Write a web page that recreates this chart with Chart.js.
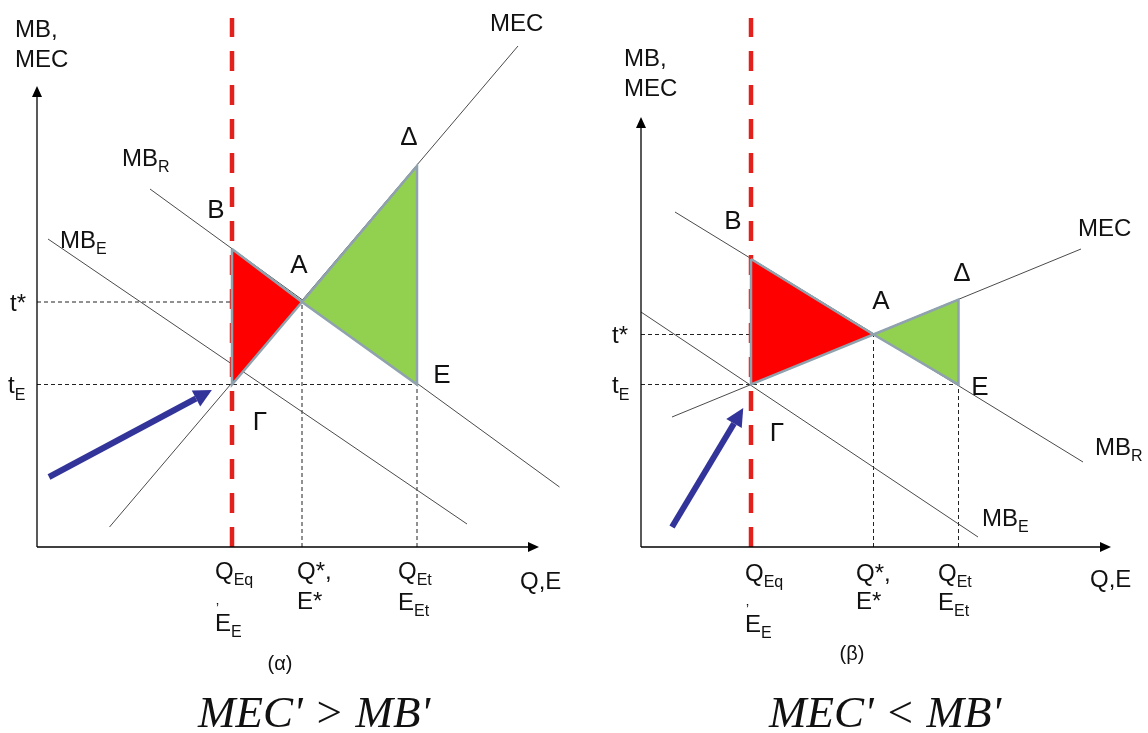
<!DOCTYPE html>
<html><head><meta charset="utf-8">
<script src="https://cdn.jsdelivr.net/npm/chart.js@4.4.1/dist/chart.umd.min.js"></script>
<style>
html,body{margin:0;padding:0;background:#fff;width:1148px;height:733px;overflow:hidden}
canvas{position:absolute;top:0}
#cA{left:0}
#cB{left:574px}
</style></head><body>
<canvas id="cA" width="574" height="733"></canvas>
<canvas id="cB" width="574" height="733"></canvas>
<script>
// ===== Panel (α): MEC' > MB' =====
const alphaQ = [39, 53, 76];            // Q_Eq, Q*, Q_Et
const alphaT = [32.5, 49];              // t_E, t*
const alphaMEC = [{x:14.5,y:4},{x:96.2,y:100.2}];
const alphaMBR = [{x:22.6,y:71.6},{x:104.5,y:12}];
const alphaMBE = [{x:2.2,y:61.6},{x:86,y:4.6}];
const alphaRed = [{x:39,y:59.6},{x:53,y:49},{x:39,y:32.5}];     // B, A, Γ
const alphaGreen = [{x:53,y:49},{x:76,y:76.2},{x:76,y:32.5}];   // A, Δ, E
const alphaArrow = [{x:2.4,y:14},{x:31.8,y:29.7}];
const alphaAxis = [98.2, 90];           // x-axis end, y-axis end
const alphaPolicyTop = 105.8;

// ===== Panel (β): MEC' < MB' =====
const betaQ = [22, 46.5, 63.5];
const betaT = [32.5, 42.5];
const betaMEC = [{x:6.2,y:26},{x:88,y:59.6}];
const betaMBR = [{x:6.8,y:67},{x:88.4,y:17}];
const betaMBE = [{x:0,y:47},{x:67.4,y:2}];
const betaRed = [{x:22,y:57.6},{x:46.5,y:42.5},{x:22,y:32.5}];
const betaGreen = [{x:46.5,y:42.5},{x:63.5,y:49.5},{x:63.5,y:32.5}];
const betaArrow = [{x:6.2,y:4},{x:18.6,y:24.7}];
const betaAxis = [91.8, 83.8];
const betaPolicyTop = 105.8;

const SANS = '"Liberation Sans", Arial, sans-serif';

function buildDatasets(Q, T, MEC, MBR, MBE, red, green, arrow, axis, top) {
  const line = (data, extra) => Object.assign({data, showLine:true, fill:false, borderColor:'#4a4a4a', borderWidth:1, pointRadius:0, clip:false, order:4}, extra||{});
  const guide = (data) => line(data, {borderColor:'#222', borderWidth:1, borderDash:[4,3], order:5});
  return [
    line(arrow, {borderColor:'#33349A', borderWidth:6, order:0, arrowHead:{len:18, half:9}}),
    line([...red, red[0]], {fill:'shape', backgroundColor:'#FF0000', borderColor:'#8FA2AE', borderWidth:2.5, order:2}),
    line([...green, green[0]], {fill:'shape', backgroundColor:'#92D050', borderColor:'#8FA2AE', borderWidth:2.5, order:2}),
    line([{x:Q[0],y:0},{x:Q[0],y:top}], {borderColor:'#E3211C', borderWidth:4.5, borderDash:[20,14], order:3}),
    line(MEC), line(MBR), line(MBE),
    guide([{x:0,y:T[1]},{x:Q[1],y:T[1]}]),
    guide([{x:0,y:T[0]},{x:Q[2],y:T[0]}]),
    guide([{x:Q[1],y:0},{x:Q[1],y:T[1]}]),
    guide([{x:Q[2],y:0},{x:Q[2],y:T[0]}]),
    line([{x:0,y:0},{x:axis[0],y:0}], {borderColor:'#000', borderWidth:1.3, order:1, arrowHead:{len:11, half:5}}),
    line([{x:0,y:0},{x:0,y:axis[1]}], {borderColor:'#000', borderWidth:1.3, order:1, arrowHead:{len:11, half:5}})
  ];
}

const arrowPlugin = {
  id:'arrowHeads',
  afterDatasetsDraw(chart) {
    const ctx = chart.ctx;
    chart.data.datasets.forEach((ds, i) => {
      if (!ds.arrowHead) return;
      const pts = chart.getDatasetMeta(i).data;
      const a = pts[pts.length-2], b = pts[pts.length-1];
      const dx = b.x - a.x, dy = b.y - a.y, L = Math.hypot(dx, dy);
      const ux = dx/L, uy = dy/L;
      const {len, half} = ds.arrowHead;
      ctx.save();
      ctx.fillStyle = ds.borderColor;
      ctx.beginPath();
      ctx.moveTo(b.x + ux*len, b.y + uy*len);
      ctx.lineTo(b.x - uy*half, b.y + ux*half);
      ctx.lineTo(b.x + uy*half, b.y - ux*half);
      ctx.closePath();
      ctx.fill();
      ctx.restore();
    });
  }
};

function labelPlugin(items) {
  return {
    id:'labels',
    afterDraw(chart) {
      const ctx = chart.ctx, sx = chart.scales.x, sy = chart.scales.y;
      ctx.save();
      ctx.fillStyle = '#111';
      ctx.textBaseline = 'alphabetic';
      ctx.textAlign = 'left';
      for (const it of items) {
        const size = it.size || 24;
        const px = sx.getPixelForValue(it.x), py = sy.getPixelForValue(it.y);
        const mainFont = it.font || (size + 'px ' + SANS);
        ctx.font = mainFont;
        const w1 = ctx.measureText(it.t).width;
        const subSize = Math.round(size*0.66);
        let w2 = 0;
        if (it.s) { ctx.font = subSize + 'px ' + SANS; w2 = ctx.measureText(it.s).width; }
        const x0 = it.align === 'center' ? px - (w1 + w2)/2 : px;
        const base = py + (it.cap || 0.36)*size;
        ctx.font = mainFont;
        ctx.fillText(it.t, x0, base);
        if (it.s) { ctx.font = subSize + 'px ' + SANS; ctx.fillText(it.s, x0 + w1, base + 0.28*size); }
      }
      ctx.restore();
    }
  };
}

function makeChart(id, datasets, xmax, pad, items) {
  return new Chart(document.getElementById(id), {
    type:'scatter',
    data:{datasets},
    options:{
      responsive:false, animation:false, devicePixelRatio:1,
      layout:{padding:pad},
      scales:{
        x:{type:'linear', min:0, max:xmax, display:false},
        y:{type:'linear', min:0, max:108, display:false}
      },
      elements:{point:{radius:0}, line:{tension:0}},
      plugins:{legend:{display:false}, tooltip:{enabled:false}}
    },
    plugins:[arrowPlugin, labelPlugin(items)]
  });
}

const formula = 'italic 45px "Liberation Serif", "Times New Roman", serif';

const alphaItems = [
  {t:'MB,', x:-4.4, y:103.8}, {t:'MEC', x:-4.4, y:97.8},
  {t:'MEC', x:90.6, y:105},
  {t:'MB', s:'R', x:17, y:78}, {t:'MB', s:'E', x:4.6, y:61.6},
  {t:'B', x:35.8, y:67.6, size:26, align:'center'},
  {t:'A', x:52.4, y:56.6, size:26, align:'center'},
  {t:'Δ', x:74.4, y:82.2, size:26, align:'center'},
  {t:'E', x:81, y:34.6, size:26, align:'center'},
  {t:'Γ', x:44.6, y:25.2, size:26, align:'center'},
  {t:'t*', x:-5.4, y:alphaT[1]}, {t:'t', s:'E', x:-5.8, y:alphaT[0]},
  {t:'Q', s:'Eq', x:35.6, y:-4.6}, {t:'\u02BC', x:35.8, y:-12.4, size:14}, {t:'E', s:'E', x:35.6, y:-15},
  {t:'Q*,', x:52, y:-4.6}, {t:'E*', x:52, y:-10.6},
  {t:'Q', s:'Et', x:72.2, y:-4.6}, {t:'E', s:'Et', x:72.2, y:-10.8},
  {t:'Q,E', x:96.6, y:-6.6},
  {t:'(α)', x:48.6, y:-23.2, size:20, align:'center'},
  {t:"MEC' > MB'", x:55.4, y:-33, size:45, align:'center', font:formula, cap:0.33}
];

const betaItems = [
  {t:'MB,', x:-3.4, y:98}, {t:'MEC', x:-3.4, y:92},
  {t:'MEC', x:87.4, y:64},
  {t:'MB', s:'R', x:90.8, y:20.2}, {t:'MB', s:'E', x:68.2, y:6},
  {t:'B', x:18.4, y:65.4, size:26, align:'center'},
  {t:'A', x:48, y:49.4, size:26, align:'center'},
  {t:'Δ', x:64.2, y:55, size:26, align:'center'},
  {t:'E', x:67.8, y:32.2, size:26, align:'center'},
  {t:'Γ', x:27.2, y:23, size:26, align:'center'},
  {t:'t*', x:-5.8, y:betaT[1]}, {t:'t', s:'E', x:-5.8, y:betaT[0]},
  {t:'Q', s:'Eq', x:20.8, y:-5}, {t:'\u02BC', x:21, y:-12.6, size:14}, {t:'E', s:'E', x:20.8, y:-15.2},
  {t:'Q*,', x:43, y:-5}, {t:'E*', x:43, y:-10.6},
  {t:'Q', s:'Et', x:59.4, y:-5}, {t:'E', s:'Et', x:59.4, y:-10.8},
  {t:'Q,E', x:89.8, y:-6.2},
  {t:'(β)', x:42.2, y:-21.2, size:20, align:'center'},
  {t:"MEC' < MB'", x:48.8, y:-33, size:45, align:'center', font:formula, cap:0.33}
];

makeChart('cA',
  buildDatasets(alphaQ, alphaT, alphaMEC, alphaMBR, alphaMBE, alphaRed, alphaGreen, alphaArrow, alphaAxis, alphaPolicyTop),
  105, {left:37, top:7, right:12, bottom:186}, alphaItems);

makeChart('cB',
  buildDatasets(betaQ, betaT, betaMEC, betaMBR, betaMBE, betaRed, betaGreen, betaArrow, betaAxis, betaPolicyTop),
  100, {left:67, top:7, right:7, bottom:186}, betaItems);
</script>
</body></html>
